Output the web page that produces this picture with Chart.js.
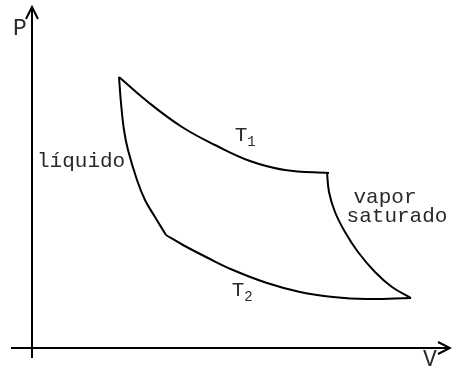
<!DOCTYPE html>
<html>
<head>
<meta charset="utf-8">
<script src="https://cdn.jsdelivr.net/npm/chart.js@4"></script>
<style>
html,body{margin:0;padding:0;background:#fff;}
#wrap{width:452px;height:375px;}
</style>
</head>
<body>
<div id="wrap"><canvas id="c" width="452" height="375"></canvas></div>
<script>
// P-V diagram (arbitrary units, origin at axes crossing)
const isoT1_V = [87, 116, 150, 183, 218, 253, 297];
const isoT1_P = [271, 246, 221, 203, 187, 178, 175];

const liquid_V = [87, 89, 92, 96, 105, 113, 123, 134];
const liquid_P = [271, 245, 218, 198, 168, 148, 131, 113];

const vapor_V = [295, 297, 303, 313, 326, 343, 360, 379];
const vapor_P = [176, 156, 136, 116, 96, 76, 61, 50];

const isoT2_V = [134, 151, 176, 201, 235, 268, 301, 335, 379];
const isoT2_P = [113, 103, 90, 78, 65, 56, 51, 49, 50];

const axisLabels = ["P", "V"];
const axisLabelV = [-12, 398];
const axisLabelP = [319, -12];

const curveLabels = ["líquido", "vapor", "saturado", "T", "T"];
const curveSubs   = ["", "", "", "1", "2"];
const curveLabelV = [5, 353, 365, 209, 206];
const curveLabelP = [187, 151, 132, 213, 58];
const curveAlign  = ["left", "center", "center", "center", "center"];

const V_MIN = -32, V_MAX = 420, P_MIN = -27, P_MAX = 348;

function pts(vs, ps){ return vs.map((v,i)=>({x:v, y:ps[i]})); }

const lineStyle = {
  showLine: true, borderColor: '#000', borderWidth: 2, pointRadius: 0,
  tension: 0.4, fill: false, clip: false
};

const FONT = '"Liberation Mono", "DejaVu Sans Mono", monospace';

const decor = {
  id: 'decor',
  afterDatasetsDraw(chart){
    const ctx = chart.ctx, xs = chart.scales.x, ys = chart.scales.y;
    const X = v => xs.getPixelForValue(v), Y = p => ys.getPixelForValue(p);
    ctx.save();
    ctx.strokeStyle = '#000'; ctx.lineWidth = 2; ctx.lineCap = 'butt';
    // axes
    const ox = X(0), oy = Y(0);
    ctx.beginPath();
    ctx.moveTo(ox, Y(-10)); ctx.lineTo(ox, Y(341));
    ctx.moveTo(X(-21), oy); ctx.lineTo(X(418), oy);
    ctx.stroke();
    // arrowheads
    ctx.beginPath();
    ctx.moveTo(ox - 6, Y(341) + 12); ctx.lineTo(ox, Y(341)); ctx.lineTo(ox + 6, Y(341) + 12);
    ctx.moveTo(X(418) - 12, oy - 6); ctx.lineTo(X(418), oy); ctx.lineTo(X(418) - 12, oy + 6);
    ctx.stroke();
    // texts
    ctx.fillStyle = '#2a2a2a';
    ctx.textBaseline = 'middle';
    ctx.font = '23px ' + FONT;
    axisLabels.forEach((t,i)=>{
      ctx.textAlign = 'center';
      ctx.fillText(t, X(axisLabelV[i]), Y(axisLabelP[i]));
    });
    curveLabels.forEach((t,i)=>{
      ctx.font = '21px ' + FONT;
      ctx.textAlign = curveAlign[i];
      const x = X(curveLabelV[i]), y = Y(curveLabelP[i]);
      ctx.fillText(t, x, y);
      if (curveSubs[i]) {
        const w = ctx.measureText(t).width;
        ctx.font = '14px ' + FONT;
        ctx.textAlign = 'left';
        ctx.fillText(curveSubs[i], x + w/2, y + 7);
      }
    });
    ctx.restore();
  }
};

new Chart(document.getElementById('c'), {
  type: 'scatter',
  data: {
    datasets: [
      Object.assign({label:'T1', data: pts(isoT1_V, isoT1_P)}, lineStyle),
      Object.assign({label:'líquido', data: pts(liquid_V, liquid_P)}, lineStyle),
      Object.assign({label:'vapor saturado', data: pts(vapor_V, vapor_P)}, lineStyle),
      Object.assign({label:'T2', data: pts(isoT2_V, isoT2_P)}, lineStyle)
    ]
  },
  options: {
    responsive: false,
    animation: false,
    layout: { padding: 0 },
    plugins: { legend: {display:false}, tooltip: {enabled:false}, title:{display:false} },
    scales: {
      x: { type:'linear', min: V_MIN, max: V_MAX, display: false },
      y: { type:'linear', min: P_MIN, max: P_MAX, display: false }
    }
  },
  plugins: [decor]
});
</script>
</body>
</html>
